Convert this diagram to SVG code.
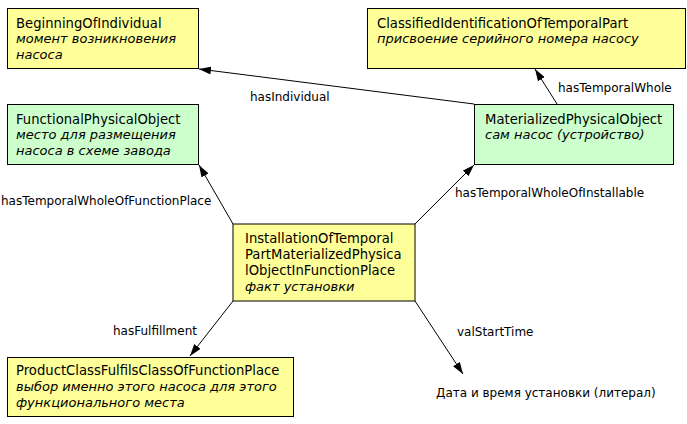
<svg xmlns="http://www.w3.org/2000/svg" width="687" height="424" viewBox="0 0 687 424">
<defs>
<marker id="ah" viewBox="0 0 12 8" refX="12" refY="4" markerWidth="12" markerHeight="8" markerUnits="userSpaceOnUse" orient="auto">
<path d="M0,0 L12,4 L0,8 Z" fill="#000"/>
</marker>
<style>
text{font-family:"DejaVu Sans",Verdana,sans-serif;font-size:13.2px;fill:#000}
.i{font-style:italic;font-size:13px}
.l{font-size:12px}
.y{fill:#FFFF99;stroke:#000;stroke-width:1}
.g{fill:#CCFFCC;stroke:#000;stroke-width:1}
.c{stroke:#000;stroke-width:1;fill:none;marker-end:url(#ah)}
</style>
</defs>
<rect width="687" height="424" fill="#fff"/>
<g id="connectors">
<line class="c" x1="474" y1="104" x2="199" y2="69"/>
<line class="c" x1="557" y1="104" x2="535" y2="69"/>
<line class="c" x1="233" y1="224" x2="199" y2="165"/>
<line class="c" x1="415" y1="224" x2="474" y2="165"/>
<line class="c" x1="233" y1="301" x2="190" y2="356"/>
<line class="c" x1="415" y1="301" x2="463" y2="374"/>
<text class="l" x="250" y="101">hasIndividual</text>
<text class="l" x="558" y="92">hasTemporalWhole</text>
<text class="l" x="1" y="205">hasTemporalWholeOfFunctionPlace</text>
<text class="l" x="455" y="197">hasTemporalWholeOfInstallable</text>
<text class="l" x="113" y="335">hasFulfillment</text>
<text class="l" x="457" y="336">valStartTime</text>
</g>
<g id="beginning">
<rect class="y" x="7.5" y="8.5" width="191" height="60"/>
<text x="16" y="27.5">BeginningOfIndividual</text>
<text class="i" x="16" y="43">момент возникновения</text>
<text class="i" x="16" y="58.5">насоса</text>
</g>
<g id="classified">
<rect class="y" x="367.5" y="8.5" width="318" height="60"/>
<text x="377" y="27.5">ClassifiedIdentificationOfTemporalPart</text>
<text class="i" x="377" y="43">присвоение серийного номера насосу</text>
</g>
<g id="functional">
<rect class="g" x="7.5" y="104.5" width="191" height="60"/>
<text x="16" y="123.5">FunctionalPhysicalObject</text>
<text class="i" x="16" y="139">место для размещения</text>
<text class="i" x="16" y="154.5">насоса в схеме завода</text>
</g>
<g id="materialized">
<rect class="g" x="474.5" y="104.5" width="199" height="60"/>
<text x="485" y="123.5">MaterializedPhysicalObject</text>
<text class="i" x="485" y="139">сам насос (устройство)</text>
</g>
<g id="installation">
<rect class="y" x="233" y="224" width="182" height="77" stroke-width="2"/>
<text x="245" y="243">InstallationOfTemporal</text>
<text x="245" y="259">PartMaterializedPhysica</text>
<text x="245" y="275">lObjectInFunctionPlace</text>
<text class="i" x="245" y="291">факт установки</text>
</g>
<g id="product">
<rect class="y" x="7.5" y="357.5" width="286" height="59"/>
<text x="16" y="375">ProductClassFulfilsClassOfFunctionPlace</text>
<text class="i" x="16" y="391">выбор именно этого насоса для этого</text>
<text class="i" x="16" y="406.5">функционального места</text>
</g>
<g id="literal">
<text class="l" x="436" y="397">Дата и время установки (литерал)</text>
</g>
</svg>
